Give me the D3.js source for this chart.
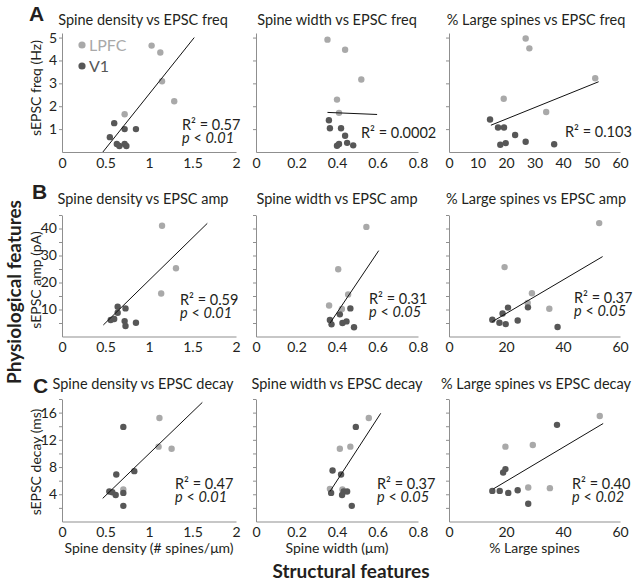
<!DOCTYPE html>
<html><head><meta charset="utf-8">
<script src="https://cdn.jsdelivr.net/npm/d3@7"></script>
<style>body{margin:0;background:#fff} svg{display:block} text{font-family:Lato,"Open Sans",sans-serif;}</style>
</head><body><svg id="c" width="640" height="584"></svg>
<script>
// ---------- data ----------
const panelTitles = [
  ["Spine density vs EPSC freq","Spine width vs EPSC freq","% Large spines vs EPSC freq"],
  ["Spine density vs EPSC amp","Spine width vs EPSC amp","% Large spines vs EPSC amp"],
  ["Spine density vs EPSC decay","Spine width vs EPSC decay","% Large spines vs EPSC decay"]];
const rowLetters = ["A","B","C"];
const xLabels = ["Spine density (# spines/\u03bcm)","Spine width (\u03bcm)","% Large spines"];
const yLabels = ["sEPSC freq (Hz)","sEPSC amp (pA)","sEPSC decay (ms)"];
const xDomains = [[0,2],[0,0.8],[0,60]];
const yDomains = [[0,5.2],[0,45],[0,18]];
const xTicksCol = [[0,0.5,1,1.5,2],[0,0.2,0.4,0.6,0.8]];
const xTicksCol3 = [[0,10,20,30,40,50,60],[0,20,40,60],[0,20,40,60]];
const yMajor = [[1,2,3,4,5],[10,20,30,40],[4,8,12,16]];
const yMinor = [[1,2,3,4,5],[5,10,15,20,25,30,35,40,45],[2,4,6,8,10,12,14,16,18]];

const lpfcA1 = [[1.03,4.65],[1.13,4.35],[1.15,3.09],[1.29,2.22],[0.72,1.65]];
const v1A1   = [[0.60,1.26],[0.72,1.0],[0.85,1.0],[0.55,0.65],[0.63,0.35],[0.66,0.26],[0.72,0.35],[0.74,0.26]];
const lpfcA2 = [[0.353,4.91],[0.44,4.47],[0.52,3.17],[0.40,2.29],[0.41,1.71]];
const v1A2   = [[0.36,1.39],[0.365,1.04],[0.42,1.04],[0.44,0.71],[0.45,0.40],[0.48,0.29],[0.40,0.27],[0.41,0.35]];
const lpfcA3 = [[26.9,4.96],[28.2,4.53],[51.3,3.22],[19.2,2.33],[34.1,1.75]];
const v1A3   = [[14.4,1.42],[17.2,1.07],[19.3,1.07],[23.2,0.74],[26.9,0.45],[19.9,0.39],[18.0,0.32],[36.9,0.34]];

const lpfcB1 = [[1.15,41.0],[1.31,25.3],[1.14,15.9]];
const v1B1   = [[0.64,11.0],[0.73,10.4],[0.64,8.8],[0.56,6.1],[0.60,6.5],[0.72,5.7],[0.73,3.9],[0.85,5.1]];
const lpfcB2 = [[0.545,40.6],[0.406,24.9],[0.455,15.6],[0.361,11.5],[0.424,10.2]];
const v1B2   = [[0.466,10.4],[0.414,8.2],[0.365,6.1],[0.373,4.5],[0.427,5.0],[0.447,5.6],[0.484,3.4]];
const lpfcB3 = [[52.7,42.0],[19.5,25.7],[29.1,16.0],[35.2,10.3],[27.6,12.4]];
const v1B3   = [[20.7,10.7],[27.7,10.8],[18.8,8.5],[15.2,6.2],[17.7,5.1],[19.9,4.6],[24.1,5.9],[38.1,3.5]];

const lpfcC1 = [[1.12,15.2],[1.11,11.0],[1.26,10.7],[0.705,4.7]];
const v1C1   = [[0.705,13.9],[0.624,6.9],[0.831,7.4],[0.544,4.4],[0.578,4.3],[0.617,3.9],[0.705,4.2],[0.705,2.3]];
const lpfcC2 = [[0.557,15.2],[0.466,11.0],[0.414,10.7],[0.365,4.8],[0.427,4.7]];
const v1C2   = [[0.493,13.9],[0.378,7.5],[0.42,6.9],[0.371,4.2],[0.433,4.4],[0.45,4.4],[0.425,3.9],[0.473,2.3]];
const lpfcC3 = [[52.9,15.5],[29.4,11.25],[19.8,11.0],[27.8,5.0],[35.4,4.9]];
const v1C3   = [[37.9,14.2],[19.8,7.7],[19.0,7.2],[15.2,4.5],[17.8,4.5],[20.8,4.2],[24.1,4.6],[27.8,2.6]];

// regression line endpoints [x0,y0,x1,y1] in data units
const fits = [
  [[0.47,0,1.52,5],[0.353,1.73,0.598,1.64],[14.7,1.17,52.5,3.07]],
  [[0.475,4.26,1.67,41.9],[0.365,4.9,0.606,31.8],[15.2,5.5,53.9,29.6]],
  [[0.468,3.4,1.613,17.5],[0.365,4.4,0.616,15.9],[15.6,4.8,54.1,14.4]]];
const r2Values = [["0.57","0.0002","0.103"],["0.59","0.31","0.37"],["0.47","0.37","0.40"]];
const pValues  = [["0.01",null,null],["0.01","0.05","0.05"],["0.01","0.05","0.02"]];

const lpfcSets = [[lpfcA1,lpfcA2,lpfcA3],[lpfcB1,lpfcB2,lpfcB3],[lpfcC1,lpfcC2,lpfcC3]];
const v1Sets   = [[v1A1,v1A2,v1A3],[v1B1,v1B2,v1B3],[v1C1,v1C2,v1C3]];

// ---------- layout ----------
const colLeft = [62,256,449], colRight = [236,418,620];
const rowAxis = [152,336.5,521.5], rowTop = [33,215,399];
const titleX = [143,337,536], titleY = [25,204,389];
const letterPos = [[29,21],[32,199],[33,393]];
const yLabelY = [88,280,462];
// stats text offsets relative to (right edge, axis)
const statOff = [
  [[-54,-22,-9],[-57,-14,0],[-55,-15,0]],
  [[-56,-32,-19],[-49,-33,-20],[-46,-33.5,-20.5]],
  [[-61,-33,-20],[-41,-33,-20],[-48,-33,-20]]];
const cLPFC = "#a9a9a9", cV1 = "#575757", cAxis = "#8f8f8f", cText = "#231f20";

const svg = d3.select("#c");

for (let r=0;r<3;r++){
  for (let c=0;c<3;c++){
    const x = d3.scaleLinear().domain(xDomains[c]).range([colLeft[c],colRight[c]]);
    const y = d3.scaleLinear().domain(yDomains[r]).range([rowAxis[r],rowTop[r]]);
    const g = svg.append("g");
    // x axis
    const xt = c<2 ? xTicksCol[c] : xTicksCol3[r];
    const xa = d3.axisBottom(x).tickValues(xt).tickSize(0).tickSizeOuter(0).tickPadding(6)
      .tickFormat(d3.format("~g"));
    const gx = g.append("g").attr("transform",`translate(0,${rowAxis[r]})`).call(xa);
    gx.select(".domain").attr("stroke",cAxis);
    gx.selectAll("text").attr("font-size",14).attr("fill",cText).style("font-family","Lato");
    // y axis minor ticks + domain
    const ya = d3.axisLeft(y).tickValues(yMinor[r]).tickSize(3).tickSizeOuter(0).tickFormat(d=> (c===0 && yMajor[r].includes(d)) ? d : "")
      .tickPadding(2);
    const gy = g.append("g").attr("transform",`translate(${colLeft[c]},0)`).call(ya);
    gy.select(".domain").attr("stroke",cAxis);
    gy.selectAll(".tick line").attr("stroke",cAxis);
    gy.selectAll("text").attr("font-size",14).attr("fill",cText).style("font-family","Lato");
    // title
    g.append("text").attr("x",titleX[c]).attr("y",titleY[r]).attr("text-anchor","middle")
      .attr("font-size",14.5).attr("fill",cText).text(panelTitles[r][c]);
    // points
    g.selectAll("circle.l").data(lpfcSets[r][c]).join("circle").attr("class","l")
      .attr("cx",d=>x(d[0])).attr("cy",d=>y(d[1])).attr("r",3.2).attr("fill",cLPFC);
    g.selectAll("circle.v").data(v1Sets[r][c]).join("circle").attr("class","v")
      .attr("cx",d=>x(d[0])).attr("cy",d=>y(d[1])).attr("r",3.2).attr("fill",cV1);
    // fit line
    const f = fits[r][c];
    g.append("line").attr("x1",x(f[0])).attr("y1",y(f[1])).attr("x2",x(f[2])).attr("y2",y(f[3]))
      .attr("stroke","#111").attr("stroke-width",1);
    // stats
    const o = statOff[r][c];
    g.append("text").attr("x",colRight[c]+o[0]).attr("y",rowAxis[r]+o[1]).attr("font-size",14.5)
      .attr("fill",cText).text("R\u00b2 = "+r2Values[r][c]);
    if (pValues[r][c]){
      const t = g.append("text").attr("x",colRight[c]+o[0]).attr("y",rowAxis[r]+o[2]).attr("font-size",14.5).attr("fill",cText);
      t.append("tspan").attr("font-style","italic").text("p");
      t.append("tspan").text(" < ");
      t.append("tspan").attr("font-style","italic").text(pValues[r][c]);
    }
    if (r===2){
      svg.append("text").attr("x",(colLeft[c]+colRight[c])/2).attr("y",553).attr("text-anchor","middle")
        .attr("font-size",14).attr("fill",cText).text(xLabels[c]);
    }
  }
  svg.append("text").attr("x",letterPos[r][0]).attr("y",letterPos[r][1]).attr("font-size",21)
    .attr("font-weight","bold").style("font-family","'Liberation Sans',Arial,sans-serif").attr("fill",cText).text(rowLetters[r]);
  svg.append("text").attr("transform",`translate(41,${yLabelY[r]}) rotate(-90)`).attr("text-anchor","middle")
    .attr("font-size",14).attr("fill",cText).text(yLabels[r]);
}
// legend
const leg = [["LPFC",cLPFC,45],["V1",cV1,66]];
leg.forEach(([name,col,yy])=>{
  svg.append("circle").attr("cx",82).attr("cy",yy).attr("r",3.6).attr("fill",col);
  svg.append("text").attr("x",89).attr("y",yy+6).attr("font-size",16).attr("fill",col).text(name);
});
svg.append("text").attr("transform","translate(21,292) rotate(-90)").attr("text-anchor","middle")
  .attr("font-size",19).attr("font-weight","bold").attr("fill",cText).text("Physiological features");
svg.append("text").attr("x",351).attr("y",578).attr("text-anchor","middle")
  .attr("font-size",19).attr("font-weight","bold").attr("fill",cText).text("Structural features");
</script></body></html>
